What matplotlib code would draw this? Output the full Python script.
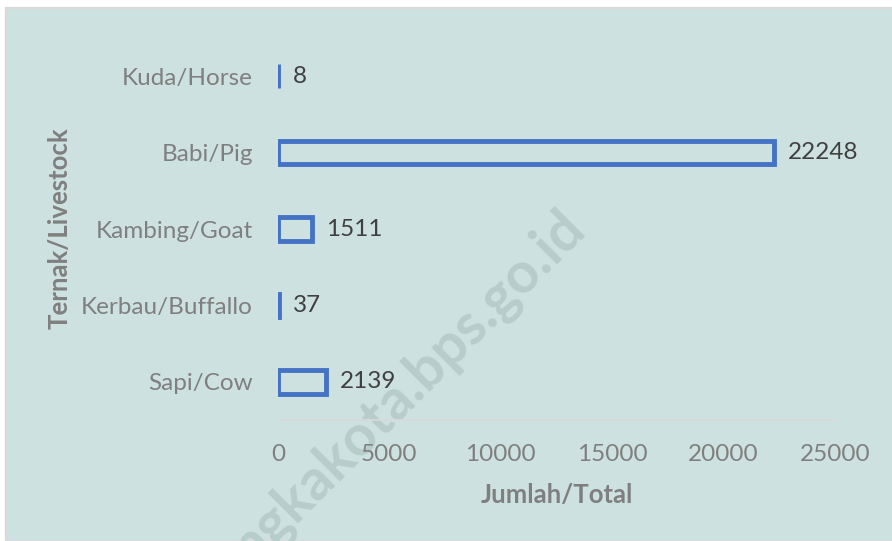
import matplotlib
matplotlib.use("Agg")
import matplotlib.pyplot as plt
from matplotlib.patches import Rectangle

categories = ["Sapi/Cow", "Kerbau/Buffallo", "Kambing/Goat", "Babi/Pig", "Kuda/Horse"]
values = [2139, 37, 1511, 22248, 8]
x_ticks = [0, 5000, 10000, 15000, 20000, 25000]
x_label = "Jumlah/Total"
y_label = "Ternak/Livestock"
watermark = "ngkakota.bps.go.id"

W, H = 892, 541
DPI = 100
plt.rcParams['font.family'] = ['Lato', 'DejaVu Sans']

fig = plt.figure(figsize=(W / DPI, H / DPI), dpi=DPI, facecolor="white")

bg = Rectangle((6 / W, 0), 1.0, 1 - 8 / H, transform=fig.transFigure,
               facecolor="#cde2e0", edgecolor="#d9d9d9", linewidth=1.6, zorder=-10)
fig.patches.append(bg)

fig.text(587 / W, (H - 230) / H, watermark, rotation=45, rotation_mode="anchor",
         ha="right", va="baseline", fontsize=41, fontweight="bold",
         color="#b6cdca", zorder=-5)

left, right = 278, 835
top, bottom = 38, 420
ax = fig.add_axes([left / W, (H - bottom) / H, (right - left) / W, (bottom - top) / H])
ax.set_facecolor("none")
ax.set_zorder(1)

ypos = list(range(len(categories)))
bars = ax.barh(ypos, values, height=0.31, facecolor="none",
               edgecolor="#4472c4", linewidth=3.5, zorder=3)

for y, v in zip(ypos, values):
    ax.annotate(str(v), xy=(v, y), xytext=(10.5, 0), textcoords="offset points",
                ha="left", va="center", fontsize=17.5, color="#404040")

ax.set_xlim(0, 25000)
ax.set_ylim(-0.5, len(categories) - 0.5)
ax.set_xticks(x_ticks)
ax.set_xticklabels([str(t) for t in x_ticks])
ax.set_yticks(ypos)
ax.set_yticklabels(categories)
ax.tick_params(axis="both", length=0, labelsize=17.5, labelcolor="#7f7f7f")
ax.tick_params(axis="y", pad=18)
ax.tick_params(axis="x", pad=17)

for s in ["top", "right", "left"]:
    ax.spines[s].set_visible(False)
ax.spines["bottom"].set_color("#d9d9d9")
ax.spines["bottom"].set_linewidth(1.2)

ax.set_xlabel(x_label, fontsize=18.5, fontweight="bold", color="#7f7f7f", labelpad=13)
fig.text(60 / W, (H - 228) / H, y_label, rotation=90, ha="center", va="center",
         fontsize=18.5, fontweight="bold", color="#7f7f7f")

fig.savefig("out.png", dpi=DPI, facecolor="white")
